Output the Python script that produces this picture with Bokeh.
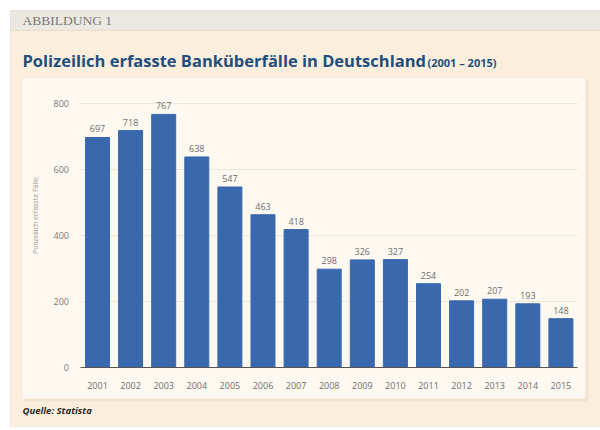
from bokeh.plotting import figure
from bokeh.models import BoxAnnotation, Label, ColumnDataSource, Range1d, FixedTicker
from bokeh.core.properties import value
from bokeh.embed import file_html
from bokeh.resources import INLINE

years = [2001, 2002, 2003, 2004, 2005, 2006, 2007, 2008, 2009, 2010, 2011, 2012, 2013, 2014, 2015]
cases = [697, 718, 767, 638, 547, 463, 418, 298, 326, 327, 254, 202, 207, 193, 148]
y_ticks = [0, 200, 400, 600, 800]
grid_vals = [200, 400, 600, 800]

header = "ABBILDUNG 1"
title = "Polizeilich erfasste Banküberfälle in Deutschland"
subtitle = "(2001 – 2015)"
y_label = "Polizeilich erfasste Fälle"
source_note = "Quelle: Statista"

W, H = 600, 430
p = figure(width=W, height=H, output_backend="svg", toolbar_location=None,
           x_range=Range1d(1998.07, 2016.196), y_range=Range1d(-190.9, 1112.1),
           min_border=0)
p.border_fill_color = "white"
p.background_fill_color = "white"
p.outline_line_color = None


def box(l, r, t, b, fill, line=None, lw=1):
    p.add_layout(BoxAnnotation(left=l, right=r, top=H - t, bottom=H - b,
                               left_units="screen", right_units="screen",
                               top_units="screen", bottom_units="screen",
                               fill_color=fill, fill_alpha=1, line_color=line,
                               line_width=lw, level="underlay"))


# beige outer panel
box(10, 600, 29, 426, "#fbeedd", "#cfc6b8")
# header bar
box(10, 600, 10, 30, "#ebe8e1", "#c4bfb5")
# inner panel shadow + panel
box(24, 588, 80, 401, "#f1e4d1")
box(22, 585, 78, 398, "#fdf8f0")

# faint column bands
band_years = years[1::2]
p.vbar(x=band_years, bottom=0, top=880, width=1.0, color="#f7f0e4", alpha=0.6, level="underlay")

# gridlines
p.segment(x0=2000.5, x1=2015.5, y0=grid_vals, y1=grid_vals, line_color="#ece5d9", line_width=1)

src = ColumnDataSource(dict(x=years, top=cases, lab=[str(c) for c in cases]))
p.vbar(x="x", top="top", bottom=0, width=0.725, source=src, color="#3a68ad")
p.text(x="x", y="top", text="lab", source=src, y_offset=-5, text_align="center", text_baseline="bottom",
       text_font_size="9px", text_color="#6e6e6e", text_font=value("Open Sans"))

# axes placed inside the frame
xa = p.xaxis[0]
xa.fixed_location = 0
xa.bounds = (2000.5, 2015.5)
xa.ticker = FixedTicker(ticks=years)
xa.axis_line_color = "#555555"
xa.axis_line_width = 1.2
xa.major_tick_line_color = None
xa.minor_tick_line_color = None
xa.major_label_standoff = 8
xa.major_label_text_font = "Open Sans"
xa.major_label_text_font_size = "9px"
xa.major_label_text_color = "#6e6e6e"

ya = p.yaxis[0]
ya.fixed_location = 2000.5
ya.ticker = FixedTicker(ticks=y_ticks)
ya.axis_line_color = None
ya.major_tick_line_color = None
ya.minor_tick_line_color = None
ya.major_label_standoff = 6
ya.major_label_text_font = "Open Sans"
ya.major_label_text_font_size = "9px"
ya.major_label_text_color = "#7a7a7a"
ya.axis_label = y_label
ya.axis_label_standoff = 10
ya.axis_label_text_font = "Open Sans"
ya.axis_label_text_font_style = "normal"
ya.axis_label_text_font_size = "7px"
ya.axis_label_text_color = "#9a9a9a"
p.xgrid.visible = False
p.ygrid.visible = False


def label(x, y, text, size, color, font="Open Sans", style="normal"):
    p.add_layout(Label(x=x, y=H - y, x_units="screen", y_units="screen", text=text,
                       text_font_size=size, text_color=color, text_font=font,
                       text_font_style=style, text_baseline="middle"))


label(22, 20, header, "13.5px", "#7d7a75", font="Liberation Serif")
label(22, 60, title, "16.5px", "#1f4e7d", style="bold")
label(427, 62, subtitle, "11px", "#1f4e7d", style="bold")
label(22, 410, source_note, "9.5px", "#2b2b2b", style="bold italic")

open("out.html", "w").write(file_html(p, INLINE))
